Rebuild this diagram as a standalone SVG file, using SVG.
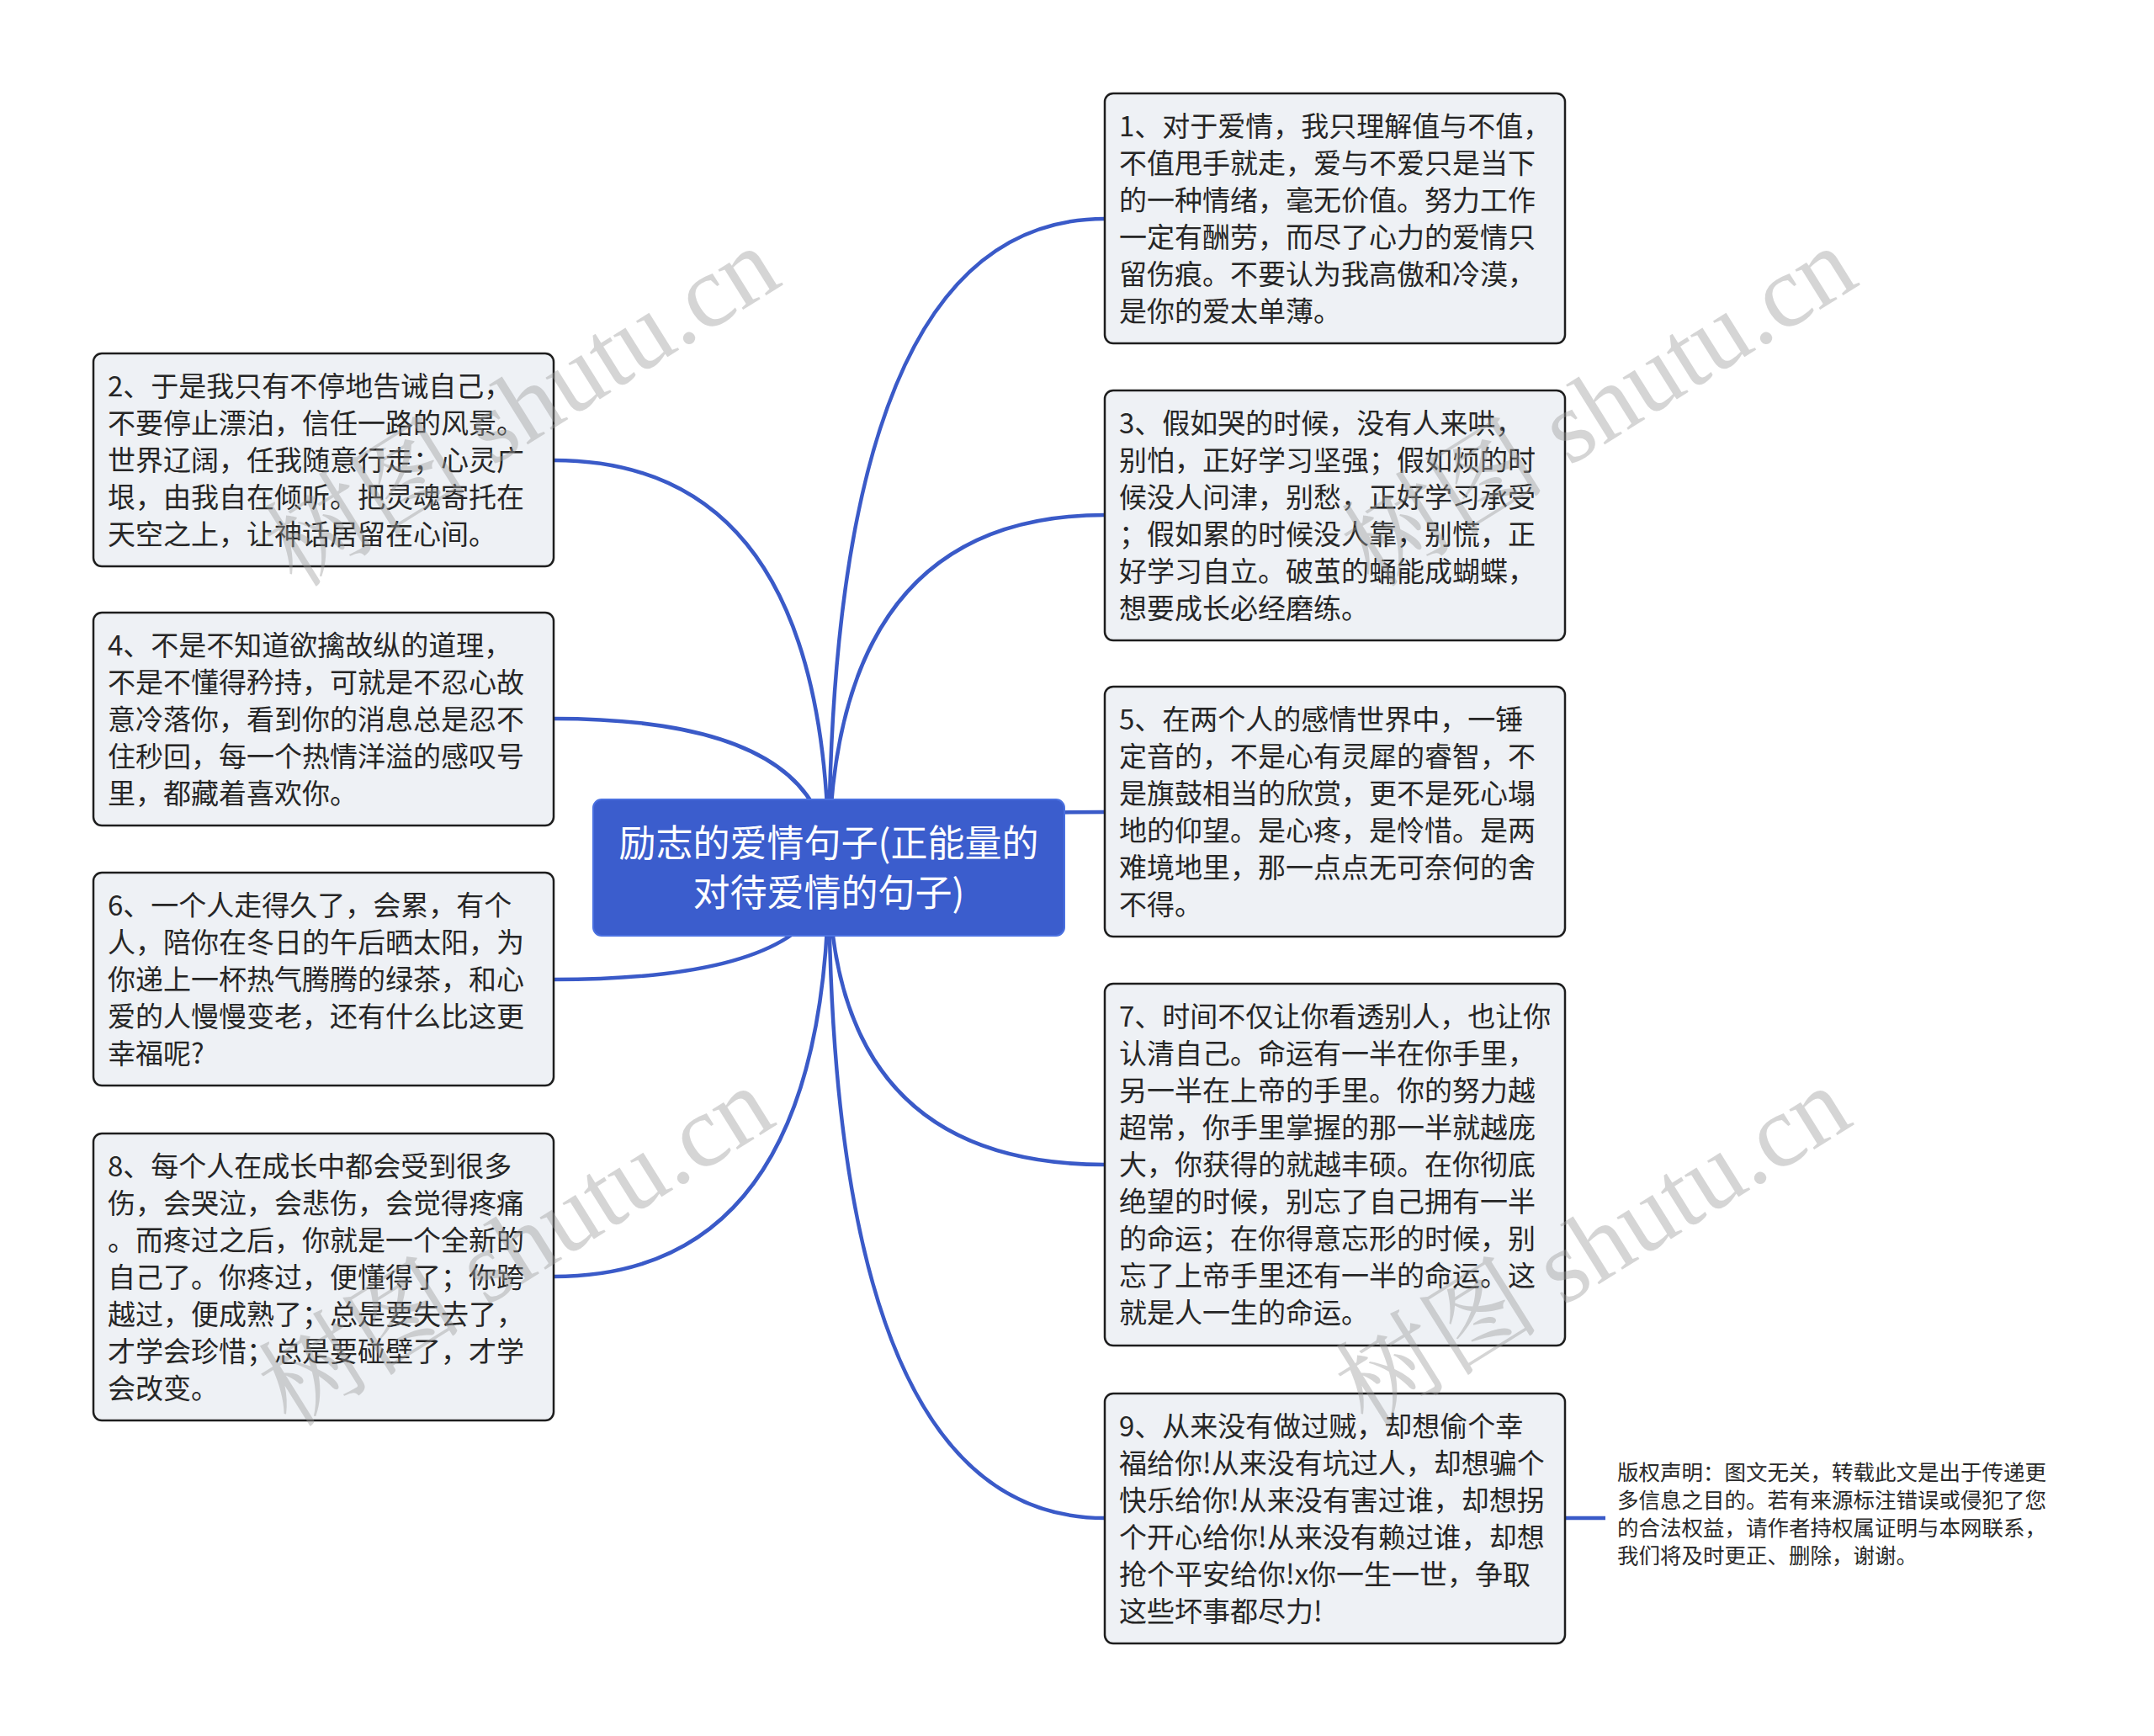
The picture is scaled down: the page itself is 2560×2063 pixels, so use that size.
<svg xmlns="http://www.w3.org/2000/svg" width="2560" height="2063" viewBox="0 0 2560 2063">
<style>
.bg{fill:#ffffff}
.box{fill:#eef1f5;stroke:#1e1e1e;stroke-width:2.5}
.t{font-family:"Noto Sans CJK SC","Noto Sans",sans-serif;font-size:33px;fill:#262626}
.ct{font-family:"Noto Sans CJK SC","Noto Sans",sans-serif;font-size:44px;fill:#ffffff;text-anchor:middle}
.cbox{fill:#3b5dcd;stroke:#4a70e0;stroke-width:2}
.link{fill:none;stroke:#3a5ac8;stroke-width:4.5}
.cp{font-family:"Noto Sans CJK SC","Noto Sans",sans-serif;font-size:25.5px;fill:#2a2a2a}
.wm{font-family:"Liberation Serif","Noto Serif CJK SC","Noto Sans CJK SC",serif;font-size:122px;fill:#9a9a9a;fill-opacity:0.42}
</style>
<defs>
<g id="wmark"><text class="wm" x="0" y="0" transform="rotate(-32)">树图 shutu.cn</text></g>
</defs>
<rect class="bg" x="0" y="0" width="2560" height="2063"/>
<g id="connectors">
<path class="link" d="M985 1031 Q985 260 1313 260"/>
<path class="link" d="M985 1031 Q985 612 1313 612"/>
<path class="link" d="M985 1031 Q985 965 1313 965"/>
<path class="link" d="M985 1031 Q985 1384 1313 1384"/>
<path class="link" d="M985 1031 Q985 1804 1313 1804"/>
<path class="link" d="M985 1031 Q985 547 658 547"/>
<path class="link" d="M985 1031 Q985 854 658 854"/>
<path class="link" d="M985 1031 Q985 1164 658 1164"/>
<path class="link" d="M985 1031 Q985 1517 658 1517"/>
<path class="link" d="M1860 1804 L1908 1804"/>
</g>
<g id="central">
<rect class="cbox" x="705" y="950" width="560" height="162" rx="10"/>
<text class="ct" x="985" y="1018">励志的爱情句子(正能量的</text>
<text class="ct" x="985" y="1077">对待爱情的句子)</text>
</g>
<g id="node1">
<rect class="box" x="1313" y="111" width="547" height="297" rx="10"/>
<text class="t" x="1330" y="162">1、对于爱情，我只理解值与不值，</text>
<text class="t" x="1330" y="206">不值甩手就走，爱与不爱只是当下</text>
<text class="t" x="1330" y="250">的一种情绪，毫无价值。努力工作</text>
<text class="t" x="1330" y="294">一定有酬劳，而尽了心力的爱情只</text>
<text class="t" x="1330" y="338">留伤痕。不要认为我高傲和冷漠，</text>
<text class="t" x="1330" y="382">是你的爱太单薄。</text>
</g>
<g id="node3">
<rect class="box" x="1313" y="464" width="547" height="297" rx="10"/>
<text class="t" x="1330" y="515">3、假如哭的时候，没有人来哄，</text>
<text class="t" x="1330" y="559">别怕，正好学习坚强；假如烦的时</text>
<text class="t" x="1330" y="603">候没人问津，别愁，正好学习承受</text>
<text class="t" x="1330" y="647">；假如累的时候没人靠，别慌，正</text>
<text class="t" x="1330" y="691">好学习自立。破茧的蛹能成蝴蝶，</text>
<text class="t" x="1330" y="735">想要成长必经磨练。</text>
</g>
<g id="node5">
<rect class="box" x="1313" y="816" width="547" height="297" rx="10"/>
<text class="t" x="1330" y="867">5、在两个人的感情世界中，一锤</text>
<text class="t" x="1330" y="911">定音的，不是心有灵犀的睿智，不</text>
<text class="t" x="1330" y="955">是旗鼓相当的欣赏，更不是死心塌</text>
<text class="t" x="1330" y="999">地的仰望。是心疼，是怜惜。是两</text>
<text class="t" x="1330" y="1043">难境地里，那一点点无可奈何的舍</text>
<text class="t" x="1330" y="1087">不得。</text>
</g>
<g id="node7">
<rect class="box" x="1313" y="1169" width="547" height="430" rx="10"/>
<text class="t" x="1330" y="1220">7、时间不仅让你看透别人，也让你</text>
<text class="t" x="1330" y="1264">认清自己。命运有一半在你手里，</text>
<text class="t" x="1330" y="1308">另一半在上帝的手里。你的努力越</text>
<text class="t" x="1330" y="1352">超常，你手里掌握的那一半就越庞</text>
<text class="t" x="1330" y="1396">大，你获得的就越丰硕。在你彻底</text>
<text class="t" x="1330" y="1440">绝望的时候，别忘了自己拥有一半</text>
<text class="t" x="1330" y="1484">的命运；在你得意忘形的时候，别</text>
<text class="t" x="1330" y="1528">忘了上帝手里还有一半的命运。这</text>
<text class="t" x="1330" y="1572">就是人一生的命运。</text>
</g>
<g id="node9">
<rect class="box" x="1313" y="1656" width="547" height="297" rx="10"/>
<text class="t" x="1330" y="1707">9、从来没有做过贼，却想偷个幸</text>
<text class="t" x="1330" y="1751">福给你!从来没有坑过人，却想骗个</text>
<text class="t" x="1330" y="1795">快乐给你!从来没有害过谁，却想拐</text>
<text class="t" x="1330" y="1839">个开心给你!从来没有赖过谁，却想</text>
<text class="t" x="1330" y="1883">抢个平安给你!x你一生一世，争取</text>
<text class="t" x="1330" y="1927">这些坏事都尽力!</text>
</g>
<g id="node2">
<rect class="box" x="111" y="420" width="547" height="253" rx="10"/>
<text class="t" x="128" y="471">2、于是我只有不停地告诫自己，</text>
<text class="t" x="128" y="515">不要停止漂泊，信任一路的风景。</text>
<text class="t" x="128" y="559">世界辽阔，任我随意行走；心灵广</text>
<text class="t" x="128" y="603">垠，由我自在倾听。把灵魂寄托在</text>
<text class="t" x="128" y="647">天空之上，让神话居留在心间。</text>
</g>
<g id="node4">
<rect class="box" x="111" y="728" width="547" height="253" rx="10"/>
<text class="t" x="128" y="779">4、不是不知道欲擒故纵的道理，</text>
<text class="t" x="128" y="823">不是不懂得矜持，可就是不忍心故</text>
<text class="t" x="128" y="867">意冷落你，看到你的消息总是忍不</text>
<text class="t" x="128" y="911">住秒回，每一个热情洋溢的感叹号</text>
<text class="t" x="128" y="955">里，都藏着喜欢你。</text>
</g>
<g id="node6">
<rect class="box" x="111" y="1037" width="547" height="253" rx="10"/>
<text class="t" x="128" y="1088">6、一个人走得久了，会累，有个</text>
<text class="t" x="128" y="1132">人，陪你在冬日的午后晒太阳，为</text>
<text class="t" x="128" y="1176">你递上一杯热气腾腾的绿茶，和心</text>
<text class="t" x="128" y="1220">爱的人慢慢变老，还有什么比这更</text>
<text class="t" x="128" y="1264">幸福呢?</text>
</g>
<g id="node8">
<rect class="box" x="111" y="1347" width="547" height="341" rx="10"/>
<text class="t" x="128" y="1398">8、每个人在成长中都会受到很多</text>
<text class="t" x="128" y="1442">伤，会哭泣，会悲伤，会觉得疼痛</text>
<text class="t" x="128" y="1486">。而疼过之后，你就是一个全新的</text>
<text class="t" x="128" y="1530">自己了。你疼过，便懂得了；你跨</text>
<text class="t" x="128" y="1574">越过，便成熟了；总是要失去了，</text>
<text class="t" x="128" y="1618">才学会珍惜；总是要碰壁了，才学</text>
<text class="t" x="128" y="1662">会改变。</text>
</g>
<g id="copyright">
<text class="cp" x="1922" y="1759">版权声明：图文无关，转载此文是出于传递更</text>
<text class="cp" x="1922" y="1792">多信息之目的。若有来源标注错误或侵犯了您</text>
<text class="cp" x="1922" y="1825">的合法权益，请作者持权属证明与本网联系，</text>
<text class="cp" x="1922" y="1858">我们将及时更正、删除，谢谢。</text>
</g>
<g id="watermarks">
<use href="#wmark" x="352" y="700"/>
<use href="#wmark" x="1632" y="700"/>
<use href="#wmark" x="345" y="1698"/>
<use href="#wmark" x="1625" y="1698"/>
</g>
</svg>
